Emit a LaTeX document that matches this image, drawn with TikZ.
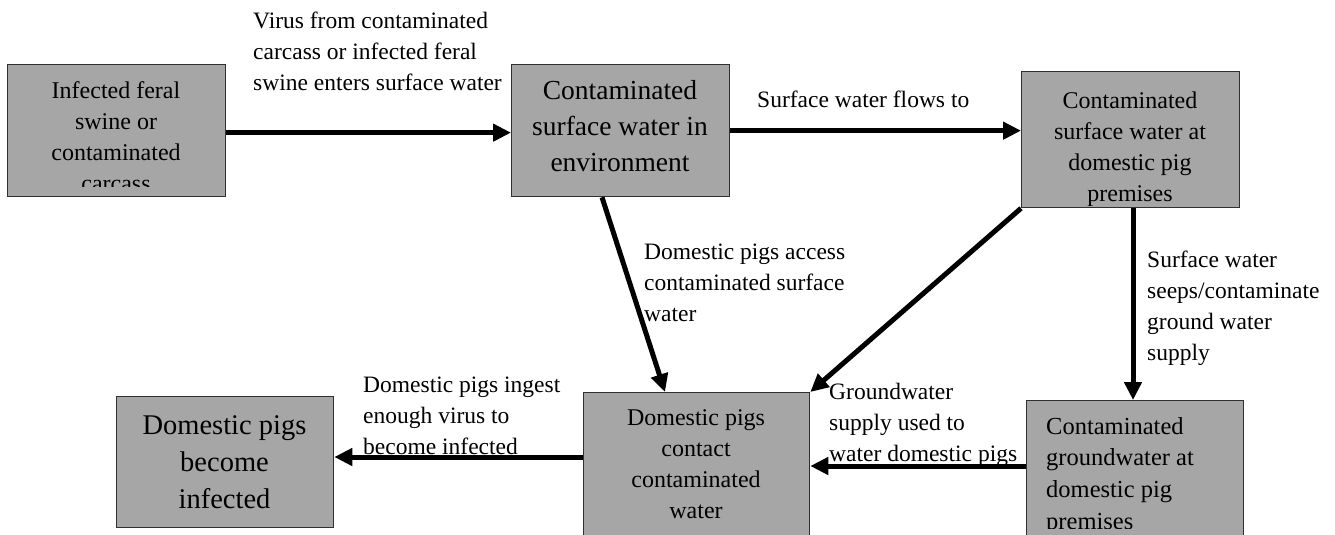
\documentclass[tikz,border=0pt]{standalone}
\usepackage{fontspec}
\setmainfont{Liberation Serif}
\usetikzlibrary{arrows.meta,calc}
\definecolor{boxgray}{HTML}{A6A6A6}
\definecolor{boxline}{HTML}{303030}
\tikzset{
  box/.style={draw=boxline, line width=1.3pt, fill=boxgray, inner sep=0pt, anchor=north west},
  flow/.style={line width=5pt, -{Triangle[length=18pt,width=17pt]}},
  lbl/.style={font=\fontsize{23.5}{31}\selectfont, align=left, inner sep=0pt, anchor=north west},
  btxt/.style={font=\fontsize{24}{31}\selectfont, align=center, inner sep=0pt, anchor=north},
}
\begin{document}
\begin{tikzpicture}[x=1pt,y=-1pt]
\useasboundingbox (0,0) rectangle (1335,535);
% boxes
\node[box, minimum width=218pt, minimum height=132pt] (b1) at (7,64) {};
\node[box, minimum width=218pt, minimum height=132pt] (b2) at (511,64) {};
\node[box, minimum width=218pt, minimum height=136pt] (b3) at (1021,71) {};
\node[box, minimum width=217pt, minimum height=131pt] (b4) at (116,396) {};
\node[box, minimum width=226pt, minimum height=150pt] (b5) at (583,392) {};
\node[box, minimum width=217pt, minimum height=137pt] (b6) at (1026,400) {};
% box texts (clipped to the box)
\begin{scope}
  \clip (b1.north west) rectangle ($(b1.south east)+(0,-11)$);
  \node[btxt] (t1) at (116,81.5) {Infected feral\\swine or\\contaminated\\carcass};
\end{scope}
\begin{scope}
  \clip (b2.north west) rectangle ($(b2.south east)+(0,-9)$);
  \node[btxt, font=\fontsize{27.5}{36}\selectfont] (t2) at (620,80) {Contaminated\\surface water in\\environment};
\end{scope}
\begin{scope}
  \clip (b3.north west) rectangle ($(b3.south east)+(0,-3)$);
  \node[btxt] (t3) at (1130,91.5) {Contaminated\\surface water at\\domestic pig\\premises};
\end{scope}
\begin{scope}
  \clip (b4.north west) rectangle ($(b4.south east)+(0,-9)$);
  \node[btxt, font=\fontsize{28.5}{37}\selectfont] (t4) at (224.5,415) {Domestic pigs\\become\\infected};
\end{scope}
\begin{scope}
  \clip (b5.north west) rectangle ($(b5.south east)+(0,-9)$);
  \node[btxt] (t5) at (696,409.5) {Domestic pigs\\contact\\contaminated\\water};
\end{scope}
\begin{scope}
  \clip (b6.north west) rectangle ($(b6.south east)+(0,-10)$);
  \node[btxt, align=left, anchor=north west, font=\fontsize{24.5}{31.7}\selectfont] (t6) at (1046,417) {Contaminated\\groundwater at\\domestic pig\\premises};
\end{scope}
% connectors
\draw[flow] ([yshift=-2pt]b1.east) -- ([yshift=-2pt]b2.west);
\draw[flow] (b2.east) -- (b3.west |- b2.east);
\draw[flow] ($(b2.south west)+(91,0)$) -- ($(b5.north west)+(82,0)$);
\draw[flow] (b3.south west) -- (b5.north east);
\draw[flow] ($(b3.south west)+(112,0)$) -- ($(b6.north west)+(107,0)$);
\draw[flow] ($(b6.north west)+(0,66)$) -- ($(b5.north east)+(0,74)$);
\draw[flow] ($(b5.north west)+(0,65)$) -- ($(b4.north east)+(0,61)$);
% labels
\node[lbl] (l1) at (253,11.5) {Virus from contaminated\\carcass or infected feral\\swine enters surface water};
\node[lbl] (l2) at (757,91) {Surface water flows to};
\node[lbl] (l3) at (644,243.5) {Domestic pigs access\\contaminated surface\\water};
\node[lbl] (l4) at (1147,251) {Surface water\\seeps/contaminate\\ground water\\supply};
\node[lbl] (l5) at (829,383) {Groundwater\\supply used to\\water domestic pigs};
\node[lbl] (l6) at (363,377) {Domestic pigs ingest\\enough virus to\\become infected};
\end{tikzpicture}
\end{document}
